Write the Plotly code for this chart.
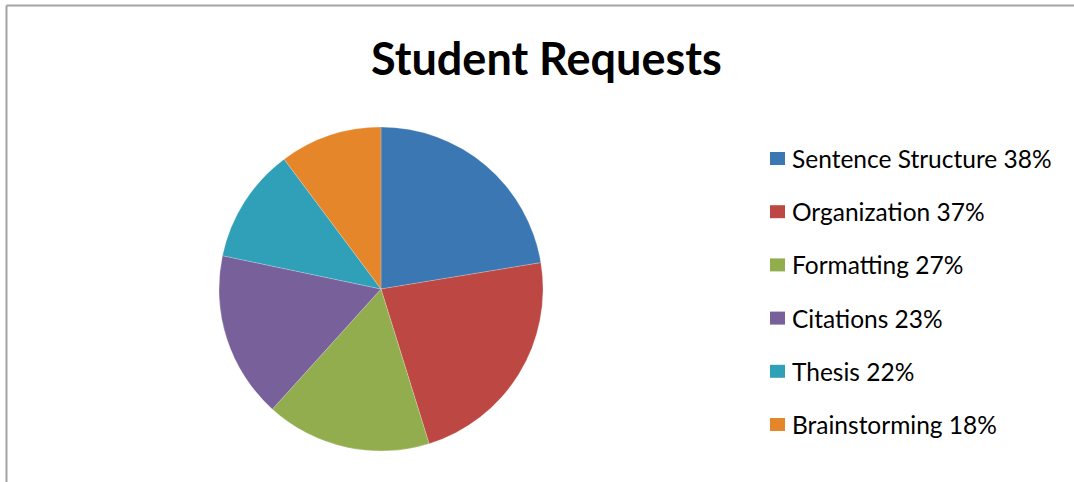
import plotly.graph_objects as go

categories = ["Sentence Structure", "Organization", "Formatting", "Citations", "Thesis", "Brainstorming"]
legend_pct = [38, 37, 27, 23, 22, 18]
# slice shares as drawn in the reference pie
values = [22.4, 22.8, 16.5, 16.6, 11.5, 10.2]
colors = ["#3b77b3", "#bd4843", "#91ad4e", "#78609a", "#30a0b9", "#e5862b"]
legend_labels = [f"{c} {v}%" for c, v in zip(categories, legend_pct)]

W, H = 1074, 482
FONT = "Lato"

fig = go.Figure(go.Pie(
    labels=categories,
    values=values,
    sort=False,
    direction="clockwise",
    rotation=0,
    marker=dict(colors=colors, line=dict(color="rgba(255,255,255,0.35)", width=0.6)),
    textinfo="none",
    hoverinfo="label+percent",
    showlegend=False,
    domain=dict(x=[219 / W, 543 / W], y=[1 - 451.5 / H, 1 - 126.5 / H]),
))

shapes = [
    dict(type="line", xref="paper", yref="paper", x0=6.5 / W, x1=1, y0=1 - 5.5 / H, y1=1 - 5.5 / H,
         line=dict(color="#a3a3a3", width=2)),
    dict(type="line", xref="paper", yref="paper", x0=6.5 / W, x1=6.5 / W, y0=0, y1=1 - 5.5 / H,
         line=dict(color="#a3a3a3", width=2)),
]
annotations = [
    dict(text="<b>Student Requests</b>", x=546 / W, y=1 - 58 / H, xref="paper", yref="paper",
         showarrow=False, xanchor="center", yanchor="middle",
         font=dict(family=FONT, size=45, color="#000000")),
]
for i, (lab, col) in enumerate(zip(legend_labels, colors)):
    yc = 158.5 + 53.2 * i
    shapes.append(dict(type="rect", xref="paper", yref="paper",
                       x0=770 / W, x1=785 / W, y0=1 - (yc + 6.5) / H, y1=1 - (yc - 6.5) / H,
                       fillcolor=col, line=dict(width=0)))
    annotations.append(dict(text=lab, x=790 / W, y=1 - yc / H, xref="paper", yref="paper",
                            showarrow=False, xanchor="left", yanchor="middle",
                            font=dict(family=FONT, size=24.5, color="#000000")))

fig.update_layout(
    width=W, height=H,
    margin=dict(l=0, r=0, t=0, b=0),
    paper_bgcolor="white", plot_bgcolor="white",
    shapes=shapes, annotations=annotations,
)

fig.write_html("out.html", config={"displayModeBar": False})

# remove default page margin so the figure sits at the window's top-left
with open("out.html", encoding="utf-8") as f:
    html = f.read()
html = html.replace("<head>", "<head><style>html,body{margin:0;padding:0;overflow:hidden;}</style>", 1)
with open("out.html", "w", encoding="utf-8") as f:
    f.write(html)
